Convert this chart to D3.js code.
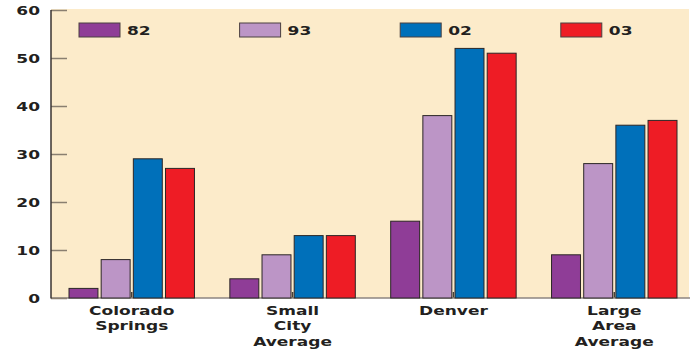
<!DOCTYPE html>
<html>
<head>
<meta charset="utf-8">
<script src="https://cdn.jsdelivr.net/npm/d3@7"></script>
<style>
  html, body { margin: 0; padding: 0; background: #fff; }
  svg { display: block; }
  text { font-family: "DejaVu Sans", Verdana, sans-serif; font-weight: bold; fill: #231f20; }
</style>
</head>
<body>
<svg id="chart" width="696" height="349"></svg>
<script>
// Data
const categories = ["Colorado Springs", "Small City Average", "Denver", "Large Area Average"];
const categoryLines = [["Colorado", "Springs"], ["Small", "City", "Average"], ["Denver"], ["Large", "Area", "Average"]];
const seriesNames = ["82", "93", "02", "03"];
const values82 = [2, 4, 16, 9];
const values93 = [8, 9, 38, 28];
const values02 = [29, 13, 52, 36];
const values03 = [27, 13, 51, 37];
const yTicks = [0, 10, 20, 30, 40, 50, 60];
const seriesColors = ["#8f3d97", "#bc95c6", "#0070ba", "#ee1c25"];

const seriesValues = [values82, values93, values02, values03];

const svg = d3.select("#chart");
const panel = { left: 51, right: 689, top: 9, bottom: 298 };
const stretch = 1.42; // wide bold lettering

const x0 = d3.scaleBand().domain(categories).range([69, 677]).paddingInner(0.22).paddingOuter(0);
const x1 = d3.scaleBand().domain(seriesNames).range([0, x0.bandwidth()]).paddingInner(0.1).paddingOuter(0);
const y = d3.scaleLinear().domain([0, 60]).range([298, 10]);
const color = d3.scaleOrdinal().domain(seriesNames).range(seriesColors);

// Panel background
svg.append("rect")
  .attr("x", panel.left).attr("y", panel.top)
  .attr("width", panel.right - panel.left).attr("height", panel.bottom - panel.top)
  .attr("fill", "#fcebca");

// Small category ticks on the baseline
const xAxis = svg.append("g").attr("transform", `translate(0,${y(0)})`)
  .call(d3.axisBottom(x0).tickSize(-6).tickFormat(""));
xAxis.select(".domain").remove();
xAxis.selectAll(".tick line").attr("stroke", "#4a4038").attr("stroke-width", 1.5);

// Baseline
svg.append("line")
  .attr("x1", panel.left).attr("x2", panel.right + 1)
  .attr("y1", y(0)).attr("y2", y(0))
  .attr("stroke", "#8c8580").attr("stroke-width", 1.5);

// Bars
const groups = svg.append("g").selectAll("g")
  .data(categories)
  .join("g")
  .attr("transform", d => `translate(${x0(d)},0)`);

groups.selectAll("rect")
  .data((c, i) => seriesNames.map((s, k) => ({ series: s, value: seriesValues[k][i] })))
  .join("rect")
  .attr("x", d => x1(d.series))
  .attr("y", d => y(d.value))
  .attr("width", x1.bandwidth())
  .attr("height", d => y(0) - y(d.value))
  .attr("fill", d => color(d.series))
  .attr("stroke", "#2b2626")
  .attr("stroke-width", 1);

// Y axis: ticks point inward
const yAxis = svg.append("g").attr("transform", `translate(${panel.left},0)`)
  .call(d3.axisRight(y).tickValues(yTicks).tickSize(16).tickFormat(""));
yAxis.select(".domain").remove();
yAxis.selectAll(".tick line").attr("stroke", "#8a7f70").attr("stroke-width", 1.5);

svg.append("line")
  .attr("x1", panel.left).attr("x2", panel.left)
  .attr("y1", y(60)).attr("y2", y(0) + 0.5)
  .attr("stroke", "#3a3330").attr("stroke-width", 1.5);

svg.append("g").selectAll("text")
  .data(yTicks)
  .join("text")
  .attr("transform", d => `translate(40,${y(d) + 4.5}) scale(${stretch},1)`)
  .attr("text-anchor", "end")
  .attr("font-size", 12)
  .text(d => d);

// Category labels
svg.append("g").selectAll("g")
  .data(categories)
  .join("g")
  .each(function(c, i) {
    const cx = x0(c) + x0.bandwidth() / 2;
    d3.select(this).selectAll("text")
      .data(categoryLines[i])
      .join("text")
      .attr("transform", (t, j) => `translate(${cx},${314.5 + j * 15.5}) scale(${stretch},1)`)
      .attr("text-anchor", "middle")
      .attr("font-size", 12)
      .text(t => t);
  });

// Legend
const legend = svg.append("g").selectAll("g")
  .data(seriesNames)
  .join("g")
  .attr("transform", (s, i) => `translate(${79 + i * 160.6},23)`);

legend.append("rect")
  .attr("width", 41).attr("height", 14)
  .attr("fill", d => color(d))
  .attr("stroke", "#4a4040").attr("stroke-width", 1);

legend.append("text")
  .attr("transform", `translate(48,11.5) scale(${stretch},1)`)
  .attr("font-size", 12)
  .text(d => d);
</script>
</body>
</html>
